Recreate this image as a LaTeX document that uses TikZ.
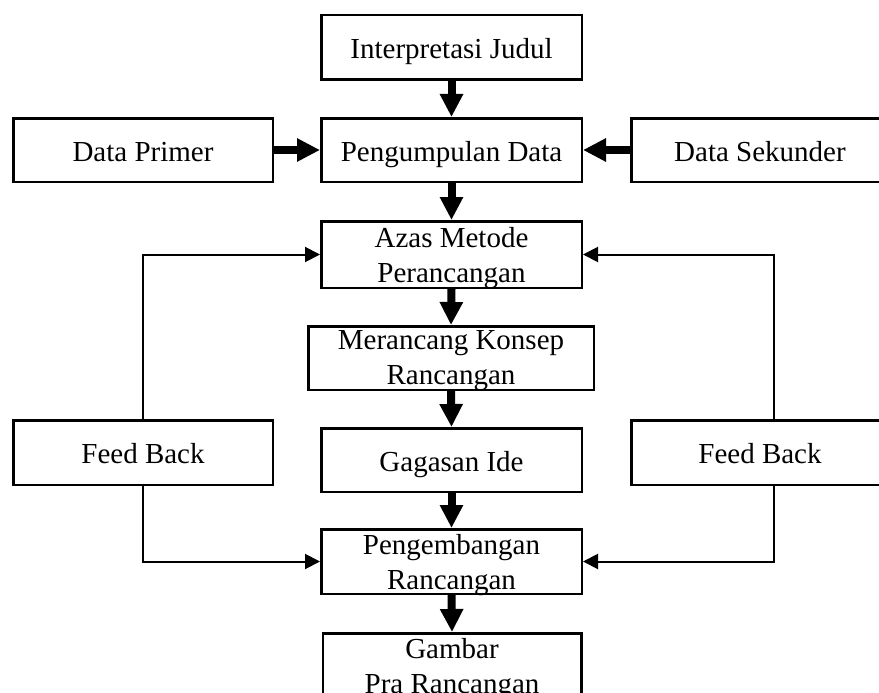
\documentclass[tikz,border=0pt]{standalone}
\usepackage{fontspec}
\setmainfont{Liberation Serif}
\usetikzlibrary{arrows.meta}
\tikzset{
  box/.style={draw, line width=2.5pt, inner sep=0pt, align=center,
    font=\fontsize{29}{35}\selectfont},
  oneline/.style={box, text height=22pt, text depth=0pt},
  twoline/.style={box, text depth=0pt},
  thickarrow/.style={line width=8pt, -{Triangle[length=23pt,width=22pt]}},
  thinarrow/.style={line width=2pt, -{Triangle[length=15pt,width=15pt]}},
}
\begin{document}
\begin{tikzpicture}[x=1pt,y=-1pt]
\clip (0,0) rectangle (879,693);
\fill[white] (0,0) rectangle (879,693);
\node[oneline, minimum width=260.5pt, minimum height=64.5pt] (interp) at (451.5,47.5) {Interpretasi Judul};
\node[oneline, minimum width=259.5pt, minimum height=63.5pt] (prim) at (143,150) {Data Primer};
\node[oneline, minimum width=260.5pt, minimum height=63.5pt] (peng) at (451.5,150) {Pengumpulan Data};
\node[oneline, minimum width=257.5pt, minimum height=63.5pt] (sek) at (760,150) {Data Sekunder};
\node[twoline, minimum width=260.5pt, minimum height=66.5pt] (azas) at (451.5,254.5) {Azas Metode\\Perancangan};
\node[twoline, minimum width=285.5pt, minimum height=63.5pt] (meran) at (451,358) {Merancang Konsep\\Rancangan};
\node[oneline, minimum width=259.5pt, minimum height=64.5pt] (fbl) at (143,452.5) {Feed Back};
\node[oneline, minimum width=260.5pt, minimum height=63.5pt] (gag) at (451.5,460) {Gagasan Ide};
\node[oneline, minimum width=257.5pt, minimum height=64.5pt] (fbr) at (760,452.5) {Feed Back};
\node[twoline, minimum width=260.5pt, minimum height=64.5pt] (pengemb) at (451.5,561.5) {Pengembangan\\Rancangan};
\node[twoline, minimum width=258.5pt, inner ysep=5pt, text depth=20pt, anchor=north] (gambar) at (452,632) {Gambar\\Pra Rancangan};

\draw[thickarrow] (interp.south) -- (peng.north);
\draw[thickarrow] (prim.east) -- (peng.west);
\draw[thickarrow] (sek.west) -- (peng.east);
\draw[thickarrow] (peng.south) -- (azas.north);
\draw[thickarrow] (azas.south) -- (meran.north);
\draw[thickarrow] (meran.south) -- (gag.north);
\draw[thickarrow] (gag.south) -- (pengemb.north);
\draw[thickarrow] (pengemb.south) -- (gambar.north);

\draw[thinarrow] (fbl.north) |- (azas.west);
\draw[thinarrow] ([xshift=13.5pt]fbr.north) |- (azas.east);
\draw[thinarrow] (fbl.south) |- (pengemb.west);
\draw[thinarrow] ([xshift=13.5pt]fbr.south) |- (pengemb.east);
\end{tikzpicture}
\end{document}
